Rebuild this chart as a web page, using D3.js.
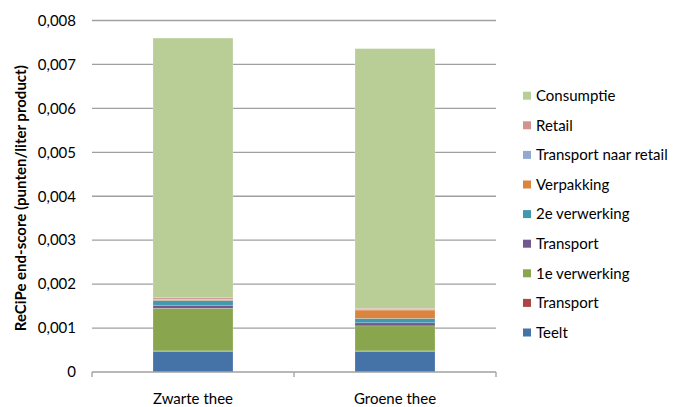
<!DOCTYPE html>
<html>
<head>
<meta charset="utf-8">
<script src="https://cdn.jsdelivr.net/npm/d3@7"></script>
<style>
  body { margin: 0; background: #fff; }
  svg { display: block; font-family: Lato, "Liberation Sans", sans-serif; }
</style>
</head>
<body>
<svg id="chart" width="673" height="407"></svg>
<script>
// ---- data ----
const categories = ["Zwarte thee", "Groene thee"];
const seriesNames = ["Teelt", "Transport", "1e verwerking", "Transport", "2e verwerking", "Verpakking", "Transport naar retail", "Retail", "Consumptie"];
const zwarteThee = [0.00047, 0.00001, 0.00097, 0.00007, 0.00011, 0.00002, 0.00001, 0.00004, 0.0059];
const groeneThee = [0.00047, 0.00001, 0.00057, 0.00007, 0.00010, 0.00019, 0.00001, 0.00003, 0.00591];
const seriesColors = ["#4572A7", "#AA4643", "#89A54E", "#71588F", "#4198AF", "#DB843D", "#93A9CF", "#D19392", "#B9CD96"];
const yTicks = [0, 0.001, 0.002, 0.003, 0.004, 0.005, 0.006, 0.007, 0.008];
const yTitle = "ReCiPe end-score (punten/liter product)";

// ---- build table ----
const keys = seriesNames.map((n, i) => "s" + i);
const values = [zwarteThee, groeneThee];
const table = categories.map((c, ci) => {
  const row = { cat: c };
  keys.forEach((k, i) => row[k] = values[ci][i]);
  return row;
});
const stacked = d3.stack().keys(keys)(table);

const svg = d3.select("#chart");
const pLeft = 92, pRight = 496, pTop = 20.5, pBottom = 372;
const fs = 15;

const x = d3.scaleBand().domain(categories).range([pLeft, pRight]).paddingInner(0.604).paddingOuter(0.302);
const y = d3.scaleLinear().domain([0, 0.008]).range([pBottom, pTop]);

const loc = d3.formatLocale({ decimal: ",", thousands: ".", grouping: [3], currency: ["€", ""] });
const fmt = d => d === 0 ? "0" : loc.format(".3f")(d);

// gridlines
svg.append("g").selectAll("line").data(yTicks.filter(t => t > 0)).join("line")
  .attr("x1", pLeft).attr("x2", pRight)
  .attr("y1", d => y(d)).attr("y2", d => y(d))
  .attr("stroke", "#a0a0a0").attr("stroke-width", 1.3);

// y tick labels
svg.append("g").selectAll("text").data(yTicks).join("text")
  .attr("x", 76).attr("y", d => y(d)).attr("dy", "0.35em")
  .attr("text-anchor", "end").attr("font-size", fs).attr("fill", "#000")
  .text(fmt);

// bars
svg.append("g").selectAll("g").data(stacked).join("g")
  .attr("fill", (d, i) => seriesColors[i])
  .selectAll("rect").data(d => d).join("rect")
  .attr("x", d => x(d.data.cat))
  .attr("width", x.bandwidth())
  .attr("y", d => y(d[1]))
  .attr("height", d => y(d[0]) - y(d[1]))
  .attr("stroke", "rgba(255,255,255,0.35)").attr("stroke-width", 0.6);

// x axis line and ticks
const step = x.step();
const bounds = [pLeft].concat(categories.map(c => x(c) + x.bandwidth() + (step - x.bandwidth()) / 2));
svg.append("line").attr("x1", pLeft).attr("x2", pRight).attr("y1", pBottom).attr("y2", pBottom)
  .attr("stroke", "#a0a0a0").attr("stroke-width", 1.3);
svg.append("g").selectAll("line").data(bounds).join("line")
  .attr("x1", d => d).attr("x2", d => d).attr("y1", pBottom).attr("y2", pBottom + 5)
  .attr("stroke", "#a0a0a0").attr("stroke-width", 1.3);

// x labels
svg.append("g").selectAll("text").data(categories).join("text")
  .attr("x", d => x(d) + x.bandwidth() / 2).attr("y", 404)
  .attr("text-anchor", "middle").attr("font-size", fs).attr("fill", "#000")
  .text(d => d);

// y title
svg.append("text")
  .attr("transform", `translate(26,${(pTop + pBottom) / 2 + 2}) rotate(-90)`)
  .attr("text-anchor", "middle").attr("font-size", fs).attr("font-weight", "bold").attr("fill", "#000")
  .text(yTitle);

// legend (top = last series)
const legendOrder = d3.range(seriesNames.length).reverse();
const lg = svg.append("g").selectAll("g").data(legendOrder).join("g")
  .attr("transform", (d, i) => `translate(523,${95.7 + i * 29.6})`);
lg.append("rect").attr("x", 0).attr("y", -4).attr("width", 8).attr("height", 8)
  .attr("fill", d => seriesColors[d]);
lg.append("text").attr("x", 13).attr("y", 0).attr("dy", "0.35em")
  .attr("font-size", fs).attr("fill", "#000")
  .text(d => seriesNames[d]);
</script>
</body>
</html>
